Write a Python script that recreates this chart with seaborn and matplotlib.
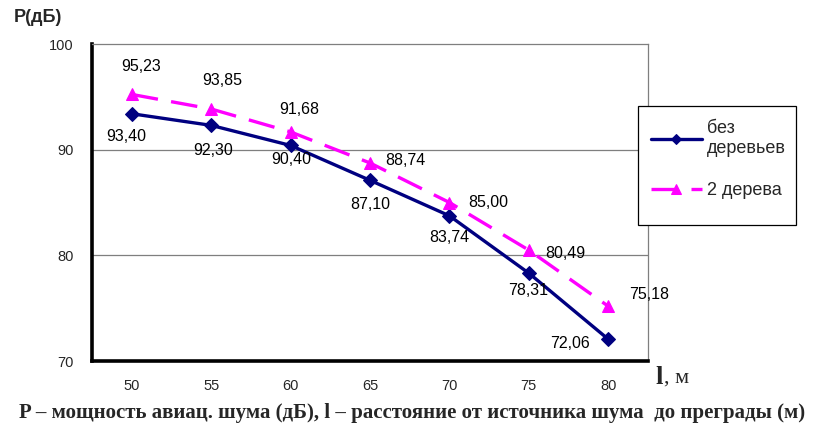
import numpy as np
import pandas as pd
import matplotlib
matplotlib.use("Agg")
import matplotlib.pyplot as plt
from matplotlib.patches import Rectangle
import seaborn as sns

# Distance from the noise source to the barrier, m
distances = [50, 55, 60, 65, 70, 75, 80]
# Aircraft noise level, dB
no_trees = [93.40, 92.30, 90.40, 87.10, 83.74, 78.31, 72.06]
two_trees = [95.23, 93.85, 91.68, 88.74, 85.00, 80.49, 75.18]
series_names = ["без\nдеревьев", "2 дерева"]
y_ticks = [70, 80, 90, 100]

# Label offsets (pixels) for the value annotations
off_no_trees = [(-5, -23), (2, -25), (1, -14), (0, -24), (0, -22), (-1, -17), (-38, -4)]
off_two_trees = [(9, 28), (11, 28), (9, 22), (35, 2), (39, 0), (36, -3), (41, 12)]

sns.set_style("white")
plt.rcParams["font.family"] = ["Liberation Sans", "DejaVu Sans"]

pos = np.arange(len(distances))
df = pd.DataFrame({
    "pos": np.concatenate([pos, pos]),
    "P": no_trees + two_trees,
    "series": [series_names[0]] * len(pos) + [series_names[1]] * len(pos),
})

W, H = 820, 430
fig = plt.figure(figsize=(W / 100, H / 100), dpi=100)
ax = fig.add_axes([92 / W, 69 / H, (648 - 92) / W, (361 - 44) / H])

sns.lineplot(data=df[df.series == series_names[0]], x="pos", y="P", ax=ax,
             color="#000080", lw=2.4, marker="D", markersize=7.5,
             markeredgecolor="#000080", label=series_names[0])
sns.lineplot(data=df[df.series == series_names[1]], x="pos", y="P", ax=ax,
             color="#FF00FF", lw=2.4, marker="^", markersize=9,
             markeredgecolor="#FF00FF", label=series_names[1])
ax.get_lines()[1].set_dashes([8, 4])

ax.set_xlim(-0.5, len(distances) - 0.5)
ax.set_ylim(70, 100)
ax.set_yticks(y_ticks)
ax.set_yticklabels([str(v) for v in y_ticks], fontsize=10.5)
ax.set_xticks(pos)
ax.set_xticklabels([str(d) for d in distances], fontsize=10.5)
ax.set_xticks(np.arange(len(distances) + 1) - 0.5, minor=True)
ax.tick_params(axis="x", which="major", length=0, pad=13)
ax.tick_params(axis="x", which="minor", length=3, width=2, direction="out")
ax.tick_params(axis="y", which="major", length=3, width=2, pad=10, direction="out")
ax.set_xlabel("")
ax.set_ylabel("")

for v in [80, 90]:
    ax.axhline(v, color="#7f7f7f", lw=0.9, zorder=0)

for side in ["left", "bottom"]:
    ax.spines[side].set_color("black")
    ax.spines[side].set_linewidth(2.6)
for side in ["top", "right"]:
    ax.spines[side].set_color("#7f7f7f")
    ax.spines[side].set_linewidth(0.9)

def fmt(v):
    return f"{v:.2f}".replace(".", ",")

for i, (v, o) in enumerate(zip(no_trees, off_no_trees)):
    ax.annotate(fmt(v), (pos[i], v), xytext=o, textcoords="offset pixels",
                ha="center", va="center", fontsize=11.5, color="black")
for i, (v, o) in enumerate(zip(two_trees, off_two_trees)):
    ax.annotate(fmt(v), (pos[i], v), xytext=o, textcoords="offset pixels",
                ha="center", va="center", fontsize=11.5, color="black")

# Legend: white box over the right edge of the plot, entries on top of it
handles, labels = ax.get_legend_handles_labels()
ax.get_legend().remove()
box = Rectangle((638 / W, 1 - 225 / H), (796 - 638) / W, (225 - 106) / H,
                transform=fig.transFigure, facecolor="white", edgecolor="black",
                lw=0.9, zorder=2)
fig.patches.append(box)
leg = fig.legend(handles, labels, loc="upper left",
                 bbox_to_anchor=(644 / W, 1 - 113 / H),
                 fontsize=13, frameon=False,
                 handlelength=2.8, labelspacing=1.4, borderpad=0.4,
                 handletextpad=0.3, borderaxespad=0)
leg.set_zorder(3)
leg.legend_handles[0].set_markersize(5)
leg.legend_handles[1].set_markersize(7)

fig.text(14 / W, 1 - 18 / H, "P(дБ)", fontsize=13, fontweight="bold",
         ha="left", va="center")
fig.text(655 / W, 1 - 377 / H, "l", family=["Liberation Serif"],
         fontsize=19, fontweight="bold", ha="left", va="center")
fig.text(664 / W, 1 - 378 / H, ", м", family=["Liberation Serif"],
         fontsize=16, ha="left", va="center")
fig.text(412 / W, 1 - 413 / H,
         "P – мощность авиац. шума (дБ), l – расстояние от источника шума  до преграды (м)",
         family=["Liberation Serif"], fontsize=15, fontweight="bold",
         ha="center", va="center")

fig.savefig("out.png", dpi=100)
